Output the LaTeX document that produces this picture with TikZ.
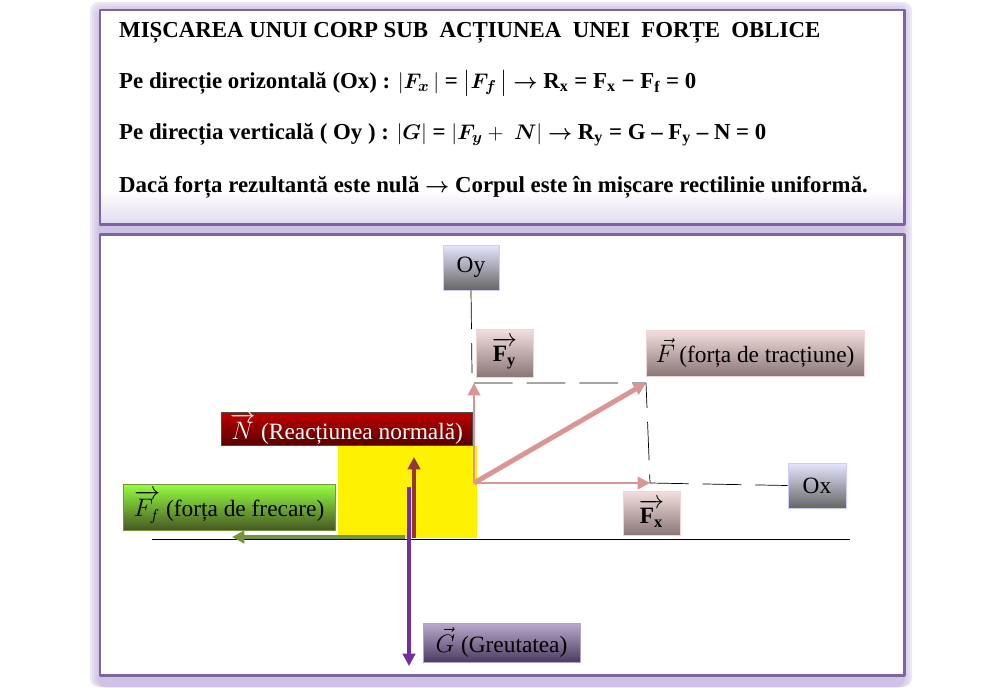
\documentclass[tikz,border=0pt]{standalone}
\usepackage{amsmath}
\usepackage{fontspec}
\setmainfont{Liberation Serif}
\usetikzlibrary{arrows.meta}
\definecolor{ramă}{HTML}{8064A2}
\definecolor{halou}{HTML}{CFC2E4}
\definecolor{roz}{HTML}{D99694}
\definecolor{maro}{HTML}{953735}
\definecolor{violet}{HTML}{7030A0}
\definecolor{verde}{HTML}{77933C}
\begin{document}
\begin{tikzpicture}[x=0.02cm,y=-0.02cm,line join=round,
  >={Triangle[length=7pt,width=7pt]},
  cutie/.style={inner sep=0pt,font=\fontsize{13.3}{15}\selectfont},
  axa/.style={cutie,draw=blue!20,top color=blue!10!white,bottom color=black!60},
  roza/.style={cutie,draw=roz!40,top color=roz!30!white,bottom color=roz!40!black!70},
  rand/.style={anchor=west,font=\bfseries\fontsize{13}{15}\selectfont},
  intrerupt/.style={dash pattern=on 22pt off 8pt}]
\useasboundingbox (0,0) rectangle (1000,687);
% ramele
\foreach \i in {0,...,4}
  \fill[halou!\the\numexpr 40+15*\i\relax,rounded corners=5pt] (90+2*\i,2+2*\i) rectangle (912-2*\i,687);
\fill[white] (100,10) rectangle (904,224);
\shade[top color=white,bottom color=halou!60] (100,190) rectangle (904,224);
\draw[ramă,line width=1.7pt] (100,10) rectangle (904,224);
\fill[white] (100,234) rectangle (904,675);
\draw[ramă,line width=1.7pt] (100,234) rectangle (904,675);
% textul de sus
\node[rand] (titlu) at (113,33) {MIȘCAREA UNUI CORP SUB\ \ ACȚIUNEA\ \ UNEI\ \ FORȚE\ \ OBLICE};
\node[rand] (ox) at (113,83) {Pe direcție orizontală (Ox) : $\left|\boldsymbol{F_x}\,\right|$ = $\left|\boldsymbol{F_f}\,\right|$ $\boldsymbol{\to}$ R\textsubscript{x} = F\textsubscript{x} − F\textsubscript{f} = 0};
\node[rand] (oy) at (113,135) {Pe direcția verticală ( Oy ) : $\left|\boldsymbol{G}\right|$ = $\left|\boldsymbol{F_y}+\ \boldsymbol{N}\right|$ $\boldsymbol{\to}$ R\textsubscript{y} = G – F\textsubscript{y} – N = 0};
\node[rand] (nul) at (113,187) {Dacă forța rezultantă este nulă $\boldsymbol{\to}$ Corpul este în mișcare rectilinie uniformă.};
% corpul si solul
\fill[yellow] (338,446) rectangle (477,538);
\draw (152,539) -- (850,539);
% etichete
\node[axa,minimum width=1.12cm,minimum height=0.9cm] (Oy) at (471,267.5) {Oy};
\node[axa,minimum width=1.16cm,minimum height=0.9cm] (Ox) at (817,485.5) {Ox};
\node[roza,minimum width=1.14cm,minimum height=0.96cm] (Fy) at (504.5,353) {$\overrightarrow{\mathbf{F_y}}$};
\node[roza,minimum width=1.14cm,minimum height=0.88cm] (Fx) at (651.5,513) {$\overrightarrow{\mathbf{F_x}}$};
\node[roza,minimum width=4.36cm,minimum height=0.92cm] (F) at (755,353) {$\vec{F}\,$(forța de tracțiune)};
\node[cutie,draw=black!70,top color=red!75!black,bottom color=red!35!black,text=white,minimum width=5.02cm,minimum height=0.66cm] (N) at (346.5,428.5) {$\overrightarrow{N}$ (Reacțiunea normală)};
\node[cutie,draw=verde,top color=green!55!yellow!75!white,bottom color=verde!60!black,minimum width=4.24cm,minimum height=0.92cm] (Ff) at (229,507) {$\overrightarrow{F_f}$ (forța de frecare)};
\node[cutie,draw=ramă!60,top color=ramă!55!white,bottom color=ramă!60!black,minimum width=3.14cm,minimum height=0.78cm] (G) at (501.5,642.5) {$\vec{G}$ (Greutatea)};
% puncte
\coordinate (O) at (474,483);
\coordinate (vF) at (646,383);
\coordinate (vFy) at (474,383);
\coordinate (vFx) at (650,483);
\coordinate (cN) at (414,538);
\coordinate (vN) at (414,457);
\coordinate (cG) at (409,487);
\coordinate (vG) at (409,666);
\coordinate (cFf) at (405,537);
\coordinate (vFf) at (232,537);
% linii punctate
\draw[intrerupt] (Oy.south) -- (472,373);
\draw[intrerupt] (vFy) -- (vF) -- (vFx);
\draw[intrerupt] (vFx) -- (Ox.west);
% vectori
\draw[->,roz,line width=1.5pt] (O) -- (vFy);
\draw[->,roz,line width=1.5pt] (O) -- (vFx);
\draw[->,roz,line width=2.8pt] (O) -- (vF);
\draw[->,verde,line width=2.4pt] (cFf) -- (vFf);
\draw[->,maro,line width=2.4pt] (cN) -- (vN);
\draw[->,violet,line width=2.4pt] (cG) -- (vG);
\end{tikzpicture}
\end{document}
